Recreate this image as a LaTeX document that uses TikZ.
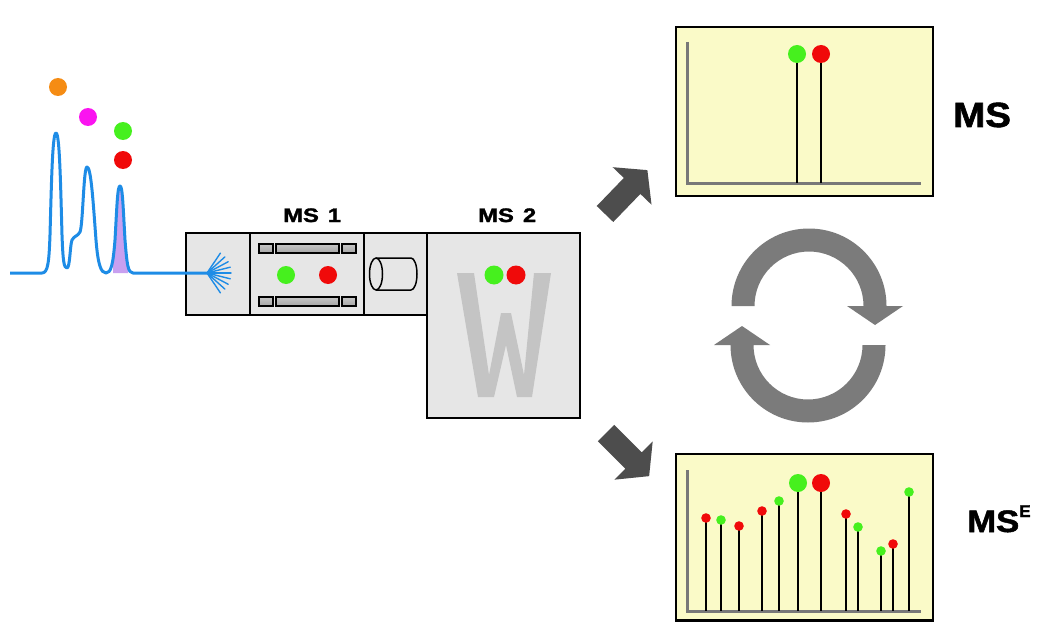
\documentclass[tikz,border=0pt]{standalone}
\usepackage{fontspec}
\setmainfont{Liberation Sans}
\newfontfamily\heavyfont{Liberation Sans}[UprightFont={* Bold}, FakeBold=1.6]
\usepackage{graphicx}
\usetikzlibrary{calc}

\definecolor{lcblue}{RGB}{30,140,230}
\definecolor{peakfill}{RGB}{200,160,240}
\definecolor{ionorange}{RGB}{245,140,20}
\definecolor{ionmagenta}{RGB}{250,20,240}
\definecolor{iongreen}{RGB}{70,240,30}
\definecolor{ionred}{RGB}{240,10,10}
\definecolor{boxgray}{RGB}{230,230,230}
\definecolor{wgray}{RGB}{196,196,196}
\definecolor{panelyellow}{RGB}{250,250,200}
\definecolor{axisgray}{RGB}{120,120,120}
\definecolor{arrowdark}{RGB}{77,77,77}
\definecolor{cyclegray}{RGB}{123,123,123}

\tikzset{
  unitbox/.style={draw=black, line width=2.5pt, fill=boxgray},
  panelbox/.style={draw=black, line width=2.5pt, fill=panelyellow},
  axisline/.style={draw=axisgray, line width=3pt},
  stem/.style={draw=black, line width=1.5pt},
  rod/.style={draw=black, line width=1.2pt, top color=gray!45, middle color=white, bottom color=gray!70},
  lclabel/.style={anchor=base west, inner sep=0pt, font=\heavyfont},
  blockarrow/.style={fill=arrowdark},
}

\newcommand{\iondot}[3]{\fill[#1] (#2) circle[radius=#3pt];}

\begin{document}
\begin{tikzpicture}[x=1pt,y=-1pt]
\useasboundingbox (0,0) rectangle (1043,623);
\fill[white] (0,0) rectangle (1043,623);

% ---------- instrument: MS 1 and MS 2 ----------
\draw[unitbox] (186,233) rectangle (427,315);
\draw[unitbox] (427,233) rectangle (580,418);
\draw[black, line width=2.5pt] (250,233) -- (250,315);
\draw[black, line width=2.5pt] (364,233) -- (364,315);

% quadrupole rods
\foreach \ya/\yb in {244/253, 297/306}{
  \draw[rod] (259,\ya) rectangle (273,\yb);
  \draw[rod] (276,\ya) rectangle (339,\yb);
  \draw[rod] (342,\ya) rectangle (356,\yb);
}
\iondot{iongreen}{286,275}{9}
\iondot{ionred}{328,275}{9}

% collision cell
\draw[black, line width=1.5pt] (376,274) ellipse[x radius=6.5pt, y radius=16pt];
\draw[black, line width=1.5pt] (376,258) -- (411,258)
  arc[start angle=90, end angle=-90, x radius=6pt, y radius=16pt] -- (376,290);

% time-of-flight stage
\fill[wgray] (457,273) -- (474,273) -- (489,375) -- (501,313) -- (511,313)
  -- (524,375) -- (534,273) -- (551,273) -- (532,397) -- (517,397)
  -- (506,345) -- (494,397) -- (478,397) -- cycle;
\iondot{iongreen}{494,275}{9.5}
\iondot{ionred}{516,275}{9.5}

\node[lclabel] (ms1) at (283,222) {\fontsize{19.5}{20}\selectfont\scalebox{1.22}[1]{MS\hspace{2pt} 1}};
\node[lclabel] (ms2) at (478,222) {\fontsize{19.5}{20}\selectfont\scalebox{1.22}[1]{MS\hspace{2pt} 2}};

% ---------- chromatogram ----------
\coordinate (spray) at (207,273);
\begin{scope}
  \clip (113,100) rectangle (128,276);
  \fill[peakfill] (106,273) .. controls (111,273) and (113,265) .. (115,240)
    .. controls (117,205) and (117.5,186) .. (120,186)
    .. controls (122.5,186) and (123,205) .. (125,240)
    .. controls (127,265) and (128,273) .. (133,273) -- cycle;
\end{scope}
\draw[lcblue, line width=3pt, line join=round] (10,273) -- (42,273)
  .. controls (48,273) and (49,262) .. (50,235)
  .. controls (51.5,180) and (52.5,133) .. (56,133)
  .. controls (59.5,133) and (60.5,180) .. (62,235)
  .. controls (63,262) and (64,268) .. (67,268)
  .. controls (70,268) and (70,245) .. (72,240)
  .. controls (74,236) and (78,236) .. (80,232)
  .. controls (83,225) and (83.5,167) .. (87,167)
  .. controls (91,167) and (93,200) .. (96,240)
  .. controls (98,265) and (101,273) .. (106,273)
  .. controls (111,273) and (113,265) .. (115,240)
  .. controls (117,205) and (117.5,186) .. (120,186)
  .. controls (122.5,186) and (123,205) .. (125,240)
  .. controls (127,265) and (128,273) .. (133,273)
  -- (spray);
\foreach \a in {-56,-42,-28,-14,0,14,28,42,56}{
  \draw[lcblue, line width=1.4pt, line cap=round] (spray) -- ++(\a:24pt);
}
\iondot{ionorange}{58,87}{9}
\iondot{ionmagenta}{88,117}{9}
\iondot{iongreen}{123,131}{9}
\iondot{ionred}{123,160}{9}

% ---------- block arrows ----------
\begin{scope}[shift={(605,214)}, rotate=46]
  \fill[blockarrow] (0,-11.5) -- (39,-11.5) -- (39,-27) -- (61,0) -- (39,27) -- (39,11.5) -- (0,11.5) -- cycle;
\end{scope}
\begin{scope}[shift={(606,433)}, rotate=-45]
  \fill[blockarrow] (0,-11.5) -- (39,-11.5) -- (39,-27) -- (61,0) -- (39,27) -- (39,11.5) -- (0,11.5) -- cycle;
\end{scope}

% ---------- cycling arrows ----------
\fill[cyclegray] (731.5,306) arc[start angle=180, end angle=0, radius=77.5pt]
  -- (903,306) -- (875,325) -- (847,306) -- (863.5,306)
  arc[start angle=0, end angle=180, radius=54.5pt] -- cycle;
\fill[cyclegray] (885.5,345) arc[start angle=0, end angle=-180, radius=77.5pt]
  -- (714,345) -- (742,326) -- (770,345) -- (753.5,345)
  arc[start angle=180, end angle=360, radius=54.5pt] -- cycle;

% ---------- MS spectrum ----------
\draw[panelbox] (676,27) rectangle (933,196);
\draw[axisline] (687,42) -- (687,183) -- (921,183);
\draw[stem] (797,54) -- (797,183);
\draw[stem] (821,54) -- (821,183);
\iondot{iongreen}{797,54}{9}
\iondot{ionred}{821,54}{9}
\node[lclabel] (mslabel) at (953,127) {\fontsize{35}{36}\selectfont\scalebox{1.1}[1]{MS}};

% ---------- MS^E spectrum ----------
\draw[panelbox] (676,454) rectangle (933,620.5);
\draw[axisline] (687,470) -- (687,611) -- (921,611);
\foreach \x/\y/\c/\r in {706/518/ionred/4.8, 721/520/iongreen/4.8, 739/526/ionred/4.8,
    762/511/ionred/4.8, 779/501/iongreen/4.8, 798/483/iongreen/9, 821/483/ionred/9,
    846/514/ionred/4.8, 858/527/iongreen/4.8, 881/551/iongreen/4.8, 893/544/ionred/4.8,
    909/492/iongreen/4.8}{
  \draw[stem] (\x,\y) -- (\x,611);
  \fill[\c] (\x,\y) circle[radius=\r pt];
}
\node[lclabel] (mselabel) at (967,532) {\fontsize{31}{32}\selectfont\scalebox{1.12}[1]{MS}\raisebox{15pt}{\fontsize{17}{18}\selectfont E}};

\end{tikzpicture}
\end{document}
